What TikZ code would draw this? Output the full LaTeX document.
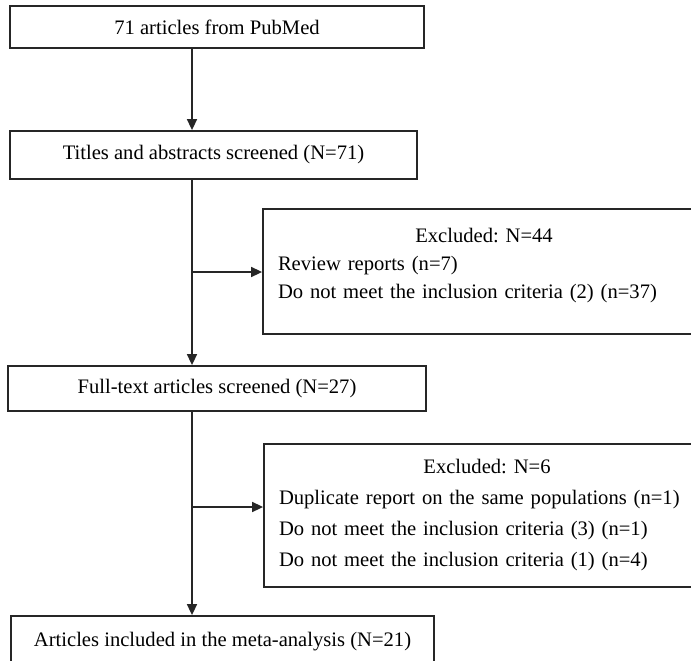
\documentclass[tikz,border=0pt]{standalone}
\usepackage{fontspec}
\setmainfont{Liberation Serif}
\usetikzlibrary{arrows.meta, positioning}

\begin{document}
\begin{tikzpicture}[x=1pt, y=-1pt,
  every node/.style={font=\fontsize{20.6}{28}\selectfont\frenchspacing},
  stage/.style={draw=black!85, line width=1.8pt, inner sep=0pt},
  excl/.style={stage, align=left, inner xsep=15pt, inner ysep=0pt},
  arr/.style={draw=black!85, line width=1.6pt, -{Triangle[length=11pt,width=10pt]}}]
\useasboundingbox (0,0) rectangle (691,661);
\clip (0,0) rectangle (691,661);
%
\node[stage, minimum width=414pt, minimum height=42pt] (src) at (217,27) {71 articles from PubMed};
\node[stage, minimum width=407pt, minimum height=48pt] (scr) at (213.5,155) {Titles and abstracts screened (N=71)};
\node[excl, text width=412pt, minimum height=125pt] (exA) at (484,271.5)
  {\makebox[\linewidth]{Excluded: N=44}\\
   Review reports (n=7)\\
   Do not meet the inclusion criteria (2) (n=37)\\[-12pt]\mbox{}};
\node[stage, minimum width=418pt, minimum height=45pt] (full) at (217,388.5) {Full-text articles screened (N=27)};
\node[excl, text width=416pt, minimum height=143pt, font=\fontsize{20.6}{31}\selectfont\frenchspacing] (exB) at (487,515.5)
  {\makebox[\linewidth]{Excluded: N=6}\\
   Duplicate report on the same populations (n=1)\\
   Do not meet the inclusion criteria (3) (n=1)\\
   Do not meet the inclusion criteria (1) (n=4)};
\node[stage, minimum width=423pt, minimum height=52pt] (incl) at (222.5,642) {Articles included in the meta-analysis (N=21)};
%
\coordinate (trunk) at (192,0);
\coordinate (forkA) at (192,272);
\coordinate (forkB) at (192,507);
%
\draw[arr] (src.south -| trunk) -- (scr.north -| trunk);
\draw[arr] (scr.south -| trunk) -- (full.north -| trunk);
\draw[arr] (forkA) -- (forkA -| exA.west);
\draw[arr] (full.south -| trunk) -- (incl.north -| trunk);
\draw[arr] (forkB) -- (forkB -| exB.west);
%
\end{tikzpicture}
\end{document}
